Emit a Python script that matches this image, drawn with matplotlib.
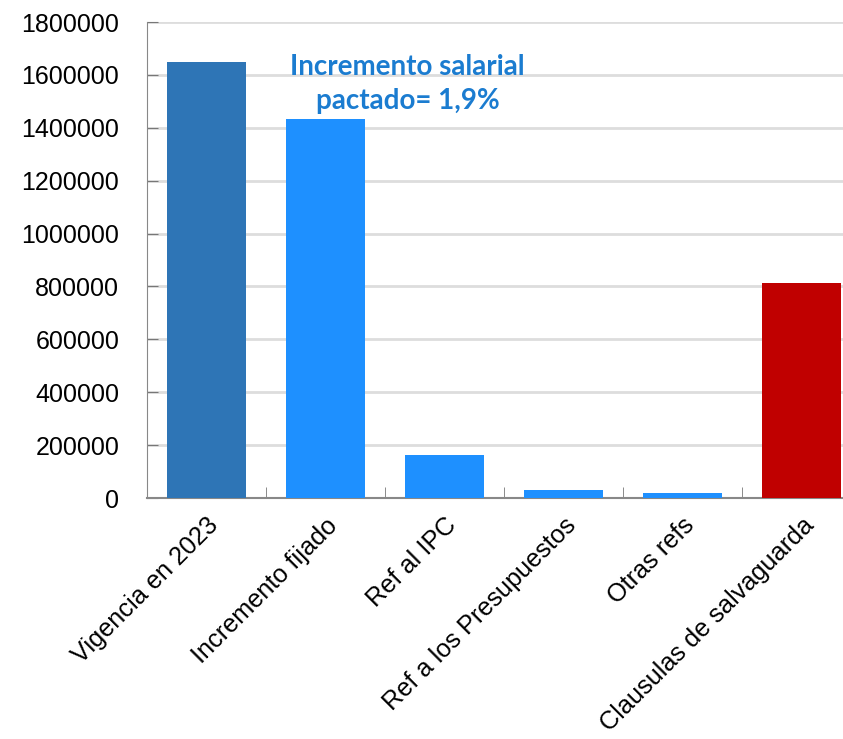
import matplotlib.pyplot as plt

# Chart data
categorias = ['Vigencia en 2023', 'Incremento fijado', 'Ref al IPC',
              'Ref a los Presupuestos', 'Otras refs', 'Clausulas de salvaguarda']
valores = [1648000, 1432000, 163000, 30000, 19000, 814000]
colores = ['#2E75B6', '#1E90FF', '#1E90FF', '#1E90FF', '#1E90FF', '#C00000']
nota = 'Incremento salarial\npactado= 1,9%'

plt.rcParams['font.family'] = ['Liberation Sans', 'DejaVu Sans']

fig = plt.figure(figsize=(8.43, 7.39), dpi=100)
ax = fig.add_axes([147 / 843, 1 - 498 / 739, 714 / 843, 476 / 739])

x = range(len(categorias))
ax.bar(x, valores, width=0.66, color=colores, zorder=3)

ax.set_xlim(-0.5, len(categorias) - 0.5)
ax.set_ylim(0, 1800000)
ax.set_yticks(range(0, 1800001, 200000))
ax.set_yticklabels([str(v) for v in range(0, 1800001, 200000)], fontsize=18)
ax.tick_params(axis='y', direction='in', length=8, color='#777777', pad=20)

# category labels, ticks at boundaries
ax.set_xticks([i + 0.5 for i in range(len(categorias) - 1)], minor=True)
ax.set_xticks(list(x))
ax.set_xticklabels(categorias, rotation=45, ha='right', rotation_mode='anchor', fontsize=18.2)
ax.tick_params(axis='x', which='major', length=0, pad=11)
ax.tick_params(axis='x', which='minor', direction='in', length=8, color='#777777')

ax.grid(axis='y', color='#DDDDDD', linewidth=2, zorder=0)
for s in ['top', 'right']:
    ax.spines[s].set_visible(False)
ax.spines['left'].set_color('#888888')
ax.spines['bottom'].set_color('#888888')
ax.spines['bottom'].set_linewidth(1.5)

ax.text(1.69, 1566000, nota, ha='center', va='center', fontsize=20,
        fontweight='bold', color='#1B7CD0', family=['Lato', 'DejaVu Sans'],
        linespacing=1.35, zorder=4)

fig.savefig('out.png', dpi=100)
